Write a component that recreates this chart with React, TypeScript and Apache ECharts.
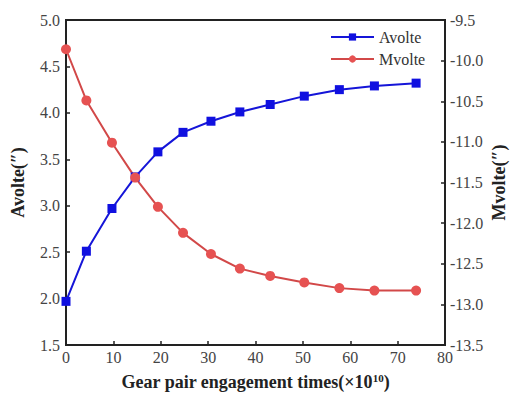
import React, { useEffect, useRef } from "react";
import * as echarts from "echarts";

const times = [0, 4.3, 9.7, 14.6, 19.4, 24.7, 30.6, 36.7, 43.1, 50.3, 57.7, 65.1, 73.9];
const avolte = [1.97, 2.51, 2.97, 3.31, 3.58, 3.79, 3.91, 4.01, 4.09, 4.18, 4.25, 4.29, 4.32];
const mvolte = [-9.86, -10.49, -11.01, -11.44, -11.8, -12.12, -12.38, -12.56, -12.65, -12.73, -12.8, -12.83, -12.83];

const xName = "Gear pair engagement times(×10{sup|10})";
const leftName = "Avolte(″)";
const rightName = "Mvolte(″)";

const FONT = "'Liberation Serif', 'Times New Roman', serif";

export default function App() {
  const ref = useRef<HTMLDivElement>(null);
  useEffect(() => {
    if (!ref.current) return;
    const chart = echarts.init(ref.current, undefined, { renderer: "svg" });
    const axisLine = { show: true, lineStyle: { color: "#222", width: 2 } };
    const tick = { inside: true, length: 4, lineStyle: { color: "#222", width: 1.5 } };
    const labelStyle = { color: "#444", fontFamily: FONT, fontSize: 16 };
    const nameStyle = { color: "#222", fontFamily: FONT, fontSize: 18, fontWeight: "bold" as const };
    chart.setOption({
      animation: false,
      backgroundColor: "#fff",
      grid: {
        left: 66,
        right: 65,
        top: 20,
        bottom: 52,
        show: true,
        borderColor: "#222",
        borderWidth: 2,
        outerBoundsMode: "none",
        containLabel: false,
      },
      legend: {
        top: 24,
        left: 325,
        orient: "vertical",
        itemWidth: 43,
        itemHeight: 9,
        itemGap: 6,
        textStyle: { fontFamily: FONT, fontSize: 16, color: "#333" },
        data: ["Avolte", "Mvolte"],
      },
      xAxis: {
        type: "value",
        min: 0,
        max: 80,
        interval: 10,
        name: xName,
        nameLocation: "middle",
        nameGap: 27,
        nameMoveOverlap: false,
        nameTextStyle: {
          ...nameStyle,
          rich: {
            sup: { fontFamily: FONT, fontSize: 11, fontWeight: "bold", color: "#222", verticalAlign: "top", padding: [0, 0, 8, 0] },
          },
        },
        axisLine,
        axisTick: tick,
        axisLabel: { ...labelStyle, margin: 4 },
        splitLine: { show: false },
      },
      yAxis: [
        {
          type: "value",
          min: 1.5,
          max: 5.0,
          interval: 0.5,
          name: leftName,
          nameLocation: "middle",
          nameGap: 39,
          nameRotate: 90,
          nameMoveOverlap: false,
          nameTextStyle: nameStyle,
          axisLine,
          axisTick: tick,
          axisLabel: { ...labelStyle, margin: 6, formatter: (v: number) => v.toFixed(1) },
          splitLine: { show: false },
        },
        {
          type: "value",
          position: "right",
          min: -13.5,
          max: -9.5,
          interval: 0.5,
          name: rightName,
          nameLocation: "middle",
          nameGap: 45,
          nameRotate: 90,
          nameMoveOverlap: false,
          nameTextStyle: nameStyle,
          axisLine,
          axisTick: tick,
          axisLabel: { ...labelStyle, margin: 5, formatter: (v: number) => v.toFixed(1) },
          splitLine: { show: false },
        },
      ],
      series: [
        {
          name: "Avolte",
          type: "line",
          yAxisIndex: 0,
          data: times.map((t, i) => [t, avolte[i]]),
          symbol: "rect",
          symbolSize: 9,
          lineStyle: { color: "#1515d8", width: 2 },
          itemStyle: { color: "#1010e0" },
        },
        {
          name: "Mvolte",
          type: "line",
          yAxisIndex: 1,
          data: times.map((t, i) => [t, mvolte[i]]),
          symbol: "circle",
          symbolSize: 10,
          lineStyle: { color: "#d24848", width: 2 },
          itemStyle: { color: "#e65252" },
        },
      ],
    });
    return () => chart.dispose();
  }, []);
  return <div ref={ref} style={{ width: 510, height: 397, position: "absolute", left: 0, top: 0 }} />;
}
